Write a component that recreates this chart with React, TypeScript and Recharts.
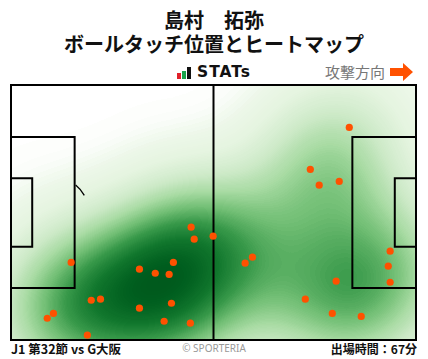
import React from 'react';
import {
  ScatterChart,
  Scatter,
  XAxis,
  YAxis,
  ReferenceArea,
  ReferenceLine,
  ReferenceDot,
} from 'recharts';

// pitch in metres, y measured from the top touchline
const touchX = [
  87.7, 77.6, 79.9, 85.1, 46.7, 47.5, 52.4, 15.6, 33.3, 37.4,
  41.0, 42.1, 20.8, 23.2, 11.0, 9.4, 33.3, 41.6, 39.7, 46.5,
  19.8, 62.6, 60.7, 98.3, 97.8, 98.3, 84.3, 76.3, 83.3, 90.8,
];
const touchY = [
  11.3, 22.5, 26.7, 25.7, 37.9, 41.1, 40.3, 47.3, 49.1, 50.2,
  50.5, 47.3, 57.4, 57.1, 60.9, 62.2, 59.5, 58.2, 63.0, 63.5,
  66.7, 45.9, 47.5, 44.3, 48.3, 52.6, 52.3, 57.1, 60.9, 61.7,
];

const touches = touchX.map((x, i) => ({ x, y: touchY[i] }));

const FONT = '"Noto Sans CJK JP", "Noto Sans", sans-serif';
const W = 428;
const H = 359;
const MARGIN = { top: 85, right: 12, bottom: 19, left: 11 };

const HeatBlob = (props: any) => (
  <circle cx={props.cx} cy={props.cy} r={52} fill="#000" fillOpacity={0.12} />
);

const TouchDot = (props: any) => (
  <circle cx={props.cx} cy={props.cy} r={3.6} fill="#ff5100" />
);

// visible part of the left penalty arc
const PenaltyArc = (props: any) => {
  const { cx, cy } = props;
  const r = 9.15 * (405 / 105);
  const a1 = (-51 * Math.PI) / 180;
  const a2 = (-29 * Math.PI) / 180;
  const d = `M ${cx + r * Math.cos(a1)} ${cy + r * Math.sin(a1)} A ${r} ${r} 0 0 1 ${
    cx + r * Math.cos(a2)
  } ${cy + r * Math.sin(a2)}`;
  return <path d={d} fill="none" stroke="#000" strokeWidth={1.3} />;
};

const Axes = () => (
  <>
    <XAxis type="number" dataKey="x" domain={[0, 105]} hide />
    <YAxis type="number" dataKey="y" domain={[0, 68]} reversed hide />
  </>
);

const alphaTable = [0, ...Array(19).fill(1)].join(' ');

export default function App() {
  return (
    <div
      style={{
        position: 'absolute',
        left: 0,
        top: 0,
        width: W,
        height: H,
        background: '#fff',
        fontFamily: FONT,
        overflow: 'hidden',
      }}
    >
      <style>{`.heat { filter: url(#heatFilter); clip-path: url(#fieldClip); }`}</style>
      <svg width={0} height={0} style={{ position: 'absolute' }}>
        <defs>
          <clipPath id="fieldClip" clipPathUnits="userSpaceOnUse">
            <rect x={11} y={85} width={405} height={255} />
          </clipPath>
          <filter
            id="heatFilter"
            filterUnits="userSpaceOnUse"
            x={-100}
            y={-100}
            width={W + 200}
            height={H + 200}
            colorInterpolationFilters="sRGB"
          >
            <feGaussianBlur in="SourceGraphic" stdDeviation={42} />
            <feColorMatrix
              type="matrix"
              values="0 0 0 1.9 0  0 0 0 1.9 0  0 0 0 1.9 0  0 0 0 1.9 0"
            />
            <feComponentTransfer>
              <feFuncR type="table" tableValues="0.95 0.9 0.81 0.66 0.45 0.22 0.07 0 0" />
              <feFuncG type="table" tableValues="0.98 0.96 0.92 0.86 0.75 0.6 0.47 0.37 0.3" />
              <feFuncB type="table" tableValues="0.94 0.88 0.79 0.64 0.46 0.29 0.18 0.12 0.1" />
              <feFuncA type="table" tableValues={alphaTable} />
            </feComponentTransfer>
          </filter>
        </defs>
      </svg>

      <div
        style={{
          position: 'absolute',
          top: 8,
          width: W,
          textAlign: 'center',
          fontWeight: 700,
          fontSize: 20,
          lineHeight: '24px',
          color: '#111',
        }}
      >
        <div>島村　拓弥</div>
        <div>ボールタッチ位置とヒートマップ</div>
      </div>

      <div style={{ position: 'absolute', left: 177, top: 66, display: 'flex', alignItems: 'flex-end' }}>
        <div style={{ width: 4, height: 6, background: '#e0202a', marginRight: 1 }} />
        <div style={{ width: 4, height: 8, background: '#1aa34a', marginRight: 1 }} />
        <div style={{ width: 4, height: 12, background: '#111', marginRight: 6 }} />
        <div
          style={{
            fontFamily: '"DejaVu Sans", sans-serif',
            fontWeight: 700,
            fontSize: 15.5,
            lineHeight: '13px',
            color: '#111',
            letterSpacing: 1,
          }}
        >
          STATs
        </div>
      </div>

      <div
        style={{
          position: 'absolute',
          left: 325,
          top: 62,
          fontSize: 15,
          lineHeight: '20px',
          color: '#777',
        }}
      >
        攻撃方向
      </div>
      <svg width={24} height={18} style={{ position: 'absolute', left: 390, top: 63 }}>
        <path d="M0 5 H13 V0 L23 9 L13 18 V13 H0 Z" fill="#ff5100" />
      </svg>

      {/* heat layer */}
      <div style={{ position: 'absolute', left: 0, top: 0 }}>
        <ScatterChart width={W} height={H} margin={MARGIN}>
          {Axes()}
          <Scatter className="heat" data={touches} shape={HeatBlob} isAnimationActive={false} />
        </ScatterChart>
      </div>

      {/* pitch lines and touches */}
      <div style={{ position: 'absolute', left: 0, top: 0 }}>
        <ScatterChart width={W} height={H} margin={MARGIN}>
          {Axes()}
          <ReferenceArea x1={0} x2={105} y1={0} y2={68} fill="none" stroke="#000" strokeWidth={2} fillOpacity={0} />
          <ReferenceArea x1={0} x2={16.5} y1={13.85} y2={54.15} fill="none" stroke="#000" strokeWidth={2} fillOpacity={0} />
          <ReferenceArea x1={0} x2={5.5} y1={24.85} y2={43.15} fill="none" stroke="#000" strokeWidth={2} fillOpacity={0} />
          <ReferenceArea x1={88.5} x2={105} y1={13.85} y2={54.15} fill="none" stroke="#000" strokeWidth={2} fillOpacity={0} />
          <ReferenceArea x1={99.5} x2={105} y1={24.85} y2={43.15} fill="none" stroke="#000" strokeWidth={2} fillOpacity={0} />
          <ReferenceLine x={52.5} stroke="#000" strokeWidth={2} />
          <ReferenceDot x={11} y={34} shape={PenaltyArc} />
          <Scatter data={touches} shape={TouchDot} isAnimationActive={false} />
        </ScatterChart>
      </div>

      <div
        style={{
          position: 'absolute',
          left: 11,
          top: 340,
          fontSize: 12.5,
          fontWeight: 700,
          lineHeight: '18px',
          color: '#111',
        }}
      >
        J1 第32節 vs G大阪
      </div>
      <div
        style={{
          position: 'absolute',
          left: 0,
          width: W,
          top: 341,
          textAlign: 'center',
          fontFamily: '"Noto Sans", sans-serif',
          fontSize: 10,
          lineHeight: '14px',
          color: '#999',
        }}
      >
        © SPORTERIA
      </div>
      <div
        style={{
          position: 'absolute',
          right: 11,
          top: 340,
          fontSize: 12,
          fontWeight: 700,
          lineHeight: '18px',
          color: '#111',
        }}
      >
        出場時間：67分
      </div>
    </div>
  );
}
